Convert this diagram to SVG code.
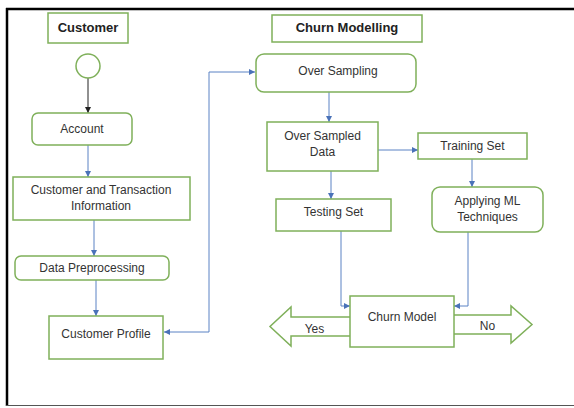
<svg xmlns="http://www.w3.org/2000/svg" width="574" height="408" viewBox="0 0 574 408">
<style>
.box{fill:#fff;stroke:#7fb05a;stroke-width:1.5}
.t{font-family:"Liberation Sans",Arial,sans-serif;font-size:12px;fill:#333;text-anchor:middle}
.h{font-family:"Liberation Sans",Arial,sans-serif;font-size:13px;font-weight:bold;fill:#222;text-anchor:middle}
.c{fill:none;stroke:#5b82c4;stroke-width:1}
</style>
<defs>
<marker id="a" viewBox="0 0 6 6" refX="6" refY="3" markerWidth="6" markerHeight="6" markerUnits="userSpaceOnUse" orient="auto-start-reverse"><path d="M0,0 L6,3 L0,6 z" fill="#4a72b8"/></marker>
<marker id="k" viewBox="0 0 6 6" refX="6" refY="3" markerWidth="6" markerHeight="6" markerUnits="userSpaceOnUse" orient="auto"><path d="M0,0 L6,3 L0,6 z" fill="#222"/></marker>
</defs>
<rect width="574" height="408" fill="#fff"/>
<line x1="6" y1="9" x2="574" y2="9" stroke="#000" stroke-width="2.5"/>
<line x1="7" y1="8" x2="7" y2="406" stroke="#000" stroke-width="2.5"/>
<line x1="6" y1="405.5" x2="574" y2="405.5" stroke="#555" stroke-width="1"/>

<g id="connectors">
<line x1="88" y1="78" x2="88" y2="113" stroke="#222" stroke-width="1" marker-end="url(#k)"/>
<line class="c" x1="88" y1="145" x2="88" y2="177" marker-end="url(#a)"/>
<line class="c" x1="94" y1="220" x2="94" y2="256" marker-end="url(#a)"/>
<line class="c" x1="96" y1="280" x2="96" y2="316" marker-end="url(#a)"/>
<polyline class="c" points="164,332 209,332 209,72 255,72" marker-start="url(#a)" marker-end="url(#a)"/>
<line class="c" x1="329" y1="92" x2="329" y2="122" marker-end="url(#a)"/>
<line class="c" x1="378" y1="150" x2="418" y2="150" marker-end="url(#a)"/>
<line class="c" x1="472" y1="159" x2="472" y2="187" marker-end="url(#a)"/>
<line class="c" x1="331" y1="171" x2="331" y2="199" marker-end="url(#a)"/>
<polyline class="c" points="341,231 341,306 350,306" marker-end="url(#a)"/>
<polyline class="c" points="468,232 468,306 454,306" marker-end="url(#a)"/>
</g>

<g id="customer-title"><rect class="box" x="48" y="13" width="80" height="30"/><text class="h" x="88" y="32">Customer</text></g>
<g id="start"><circle class="box" cx="88" cy="66" r="12"/></g>
<g id="account"><rect class="box" x="32" y="113" width="100" height="32" rx="6"/><text class="t" x="82" y="133">Account</text></g>
<g id="cust-trans"><rect class="box" x="13" y="177" width="177" height="43"/><text class="t" x="101" y="194">Customer and Transaction</text><text class="t" x="101" y="210">Information</text></g>
<g id="preprocessing"><rect class="box" x="15" y="256" width="154" height="24" rx="6"/><text class="t" x="92" y="272">Data Preprocessing</text></g>
<g id="customer-profile"><rect class="box" x="49" y="316" width="114" height="43"/><text class="t" x="106" y="338">Customer Profile</text></g>

<g id="churn-title"><rect class="box" x="272" y="15" width="150" height="27"/><text class="h" x="347" y="32">Churn Modelling</text></g>
<g id="over-sampling"><rect class="box" x="256" y="54" width="160" height="38" rx="8"/><text class="t" x="338" y="75">Over Sampling</text></g>
<g id="over-sampled-data"><rect class="box" x="267" y="122" width="111" height="49"/><text class="t" x="322.5" y="140">Over Sampled</text><text class="t" x="322.5" y="156">Data</text></g>
<g id="training-set"><rect class="box" x="418" y="133" width="109" height="26"/><text class="t" x="472.5" y="150">Training Set</text></g>
<g id="applying-ml"><rect class="box" x="432" y="187" width="111" height="45" rx="8"/><text class="t" x="487.5" y="205">Applying ML</text><text class="t" x="487.5" y="221">Techniques</text></g>
<g id="testing-set"><rect class="box" x="276" y="199" width="115" height="32"/><text class="t" x="333.5" y="216">Testing Set</text></g>

<g id="yes-arrow"><path class="box" d="M355,317 L291,317 L291,307 L270,326.5 L291,346 L291,336 L355,336 z"/><text class="t" x="314.5" y="333">Yes</text></g>
<g id="no-arrow"><path class="box" d="M449,315 L511,315 L511,306 L532,324.5 L511,343 L511,334 L449,334 z"/><text class="t" x="487.5" y="330">No</text></g>
<g id="churn-model"><rect class="box" x="350" y="296" width="104" height="51"/><text class="t" x="402" y="321">Churn Model</text></g>
</svg>
